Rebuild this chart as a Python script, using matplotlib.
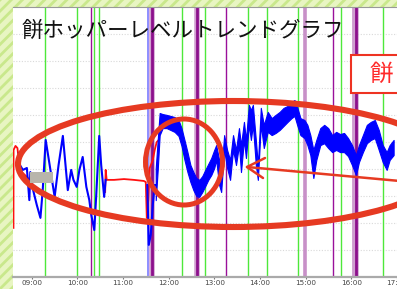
import numpy as np
import matplotlib
matplotlib.use("Agg")
import matplotlib.pyplot as plt
from matplotlib.patches import Rectangle, Ellipse

plt.rcParams["font.family"] = ["Noto Sans CJK JP", "DejaVu Sans"]
plt.rcParams["hatch.linewidth"] = 2.0

# --- data (time in hours, level in %) ---
title = "餅ホッパーレベルトレンドグラフ"
hour_ticks = [9, 10, 11, 12, 13, 14, 15, 16, 17]
hour_labels = ["09:00", "10:00", "11:00", "12:00", "13:00", "14:00", "15:00", "16:00", "17:00"]

# early, sparse part of the level trace
blue_t = [8.724, 8.746, 8.811, 8.898, 8.952, 8.974, 9.035, 9.115, 9.195, 9.245, 9.310,
          9.397, 9.506, 9.592, 9.686, 9.744, 9.794, 9.868, 9.918, 9.989, 10.048, 10.120,
          10.200, 10.265, 10.308, 10.374, 10.417, 10.482, 10.525, 10.590, 10.623,
          np.nan, 11.534, 11.567, 11.610, 11.654, 11.697, 11.719]
blue_v = [45.9, 41.4, 39.6, 40.3, 28.4, 38.8, 32.1, 26.6, 21.8, 32.1, 50.7,
          41.4, 29.6, 41.4, 52.2, 41.4, 32.1, 39.6, 35.9, 33.3, 39.6, 44.4,
          33.3, 28.4, 22.9, 17.3, 30.3, 52.2, 41.4, 29.6, 35.9,
          np.nan, 34.0, 11.8, 15.5, 26.6, 34.0, 34.0]

# dense, noisy part of the level trace (upper / lower envelope)
band_t = [11.719, 11.762, 11.805, 11.870, 11.957, 12.044, 12.131, 12.218, 12.283, 12.348,
          12.413, 12.478, 12.543, 12.608, 12.673, 12.738, 12.803, 12.868, 12.934, 12.999,
          13.042, 13.107, 13.151, 13.216, 13.281, 13.346, 13.411, 13.476, 13.541, 13.585,
          13.650, 13.693, 13.758, 13.802, 13.845, 13.910, 13.954, 14.019, 14.084, 14.171,
          14.257, 14.344, 14.431, 14.518, 14.605, 14.691, 14.756, 14.821, 14.886, 14.973,
          15.038, 15.103, 15.169, 15.234, 15.321, 15.407, 15.494, 15.581, 15.668, 15.754,
          15.841, 15.928, 16.015, 16.101, 16.167, 16.253, 16.340, 16.427, 16.514, 16.601,
          16.687, 16.774, 16.839, 16.926]
band_hi = [40.3, 50.7, 60.7, 60.3, 60.0, 59.6, 59.2, 58.1, 55.1, 50.7,
           46.2, 41.4, 38.8, 36.6, 35.9, 37.3, 39.6, 41.8, 44.0, 47.0,
           48.8, 43.3, 37.7, 52.5, 47.0, 43.3, 52.5, 47.0, 55.1, 48.8,
           57.4, 50.7, 63.7, 61.8, 63.7, 50.7, 41.4, 62.6, 56.3, 61.1,
           58.8, 60.0, 61.1, 62.6, 63.3, 64.8, 65.5, 62.6, 58.8, 58.1,
           56.3, 52.5, 47.0, 50.7, 55.1, 56.3, 55.1, 52.5, 53.7, 52.9,
           53.3, 51.4, 48.8, 45.1, 48.8, 52.5, 56.3, 57.4, 58.1, 54.4,
           48.8, 46.2, 48.8, 50.7]
band_lo = [28.4, 39.6, 52.5, 55.1, 55.1, 54.4, 53.7, 52.2, 48.5, 43.3,
           38.8, 35.1, 32.1, 29.9, 29.6, 31.4, 33.6, 35.9, 37.7, 40.3,
           43.3, 34.0, 31.4, 47.0, 40.3, 35.9, 47.0, 41.4, 48.8, 38.8,
           50.7, 44.0, 56.3, 50.7, 56.3, 41.4, 35.9, 56.3, 47.7, 53.7,
           52.5, 53.3, 54.4, 55.9, 57.4, 58.8, 59.6, 55.9, 52.5, 51.4,
           48.8, 45.1, 36.6, 43.3, 48.8, 49.5, 47.7, 46.2, 47.0, 46.2,
           46.2, 44.7, 41.4, 37.7, 42.5, 46.2, 49.5, 50.7, 51.4, 47.0,
           42.5, 39.6, 43.3, 45.1]

# second (red) trace
red_t = [8.605, 8.607, 8.649, 8.692, 8.724, 8.790, 8.920, 8.985, np.nan,
         10.612, 10.623, 10.645, 10.807, 11.024, 11.241, 11.458, 11.501, 11.523,
         11.556, 11.588, 11.654, 11.697, 11.740, 11.784]
red_v = [18.1, 47.0, 48.5, 47.7, 42.5, 38.8, 36.6, 35.1, np.nan,
         31.4, 39.6, 35.9, 35.9, 36.2, 35.9, 35.5, 35.1, 21.8,
         28.4, 40.3, 43.3, 47.0, 49.9, 50.7]

# event markers
green_events = [9.304, 9.987, 10.362, 10.471, 12.289, 12.793, 13.747, 14.153, 14.828, 15.765, 16.691]
purple_events = [10.297, 13.248, 15.609]
purple_thick_events = [11.643, 12.619, 16.112]
light_purple_events = [14.995, 16.058]
blue_events = [11.560]

W, H = 397, 289
fig = plt.figure(figsize=(W / 100, H / 100), dpi=100)
fig.patch.set_facecolor("#e8f5c2")
fig.patches.append(Rectangle((0, 0), 1, 1, transform=fig.transFigure,
                             facecolor="#e8f5c2", edgecolor="#c9e88c", hatch="///", lw=0, zorder=-3))
fig.patches.append(Rectangle((12.7 / W, 0), 1, (H - 6.5) / H, transform=fig.transFigure,
                             facecolor="white", lw=0, zorder=-2))

ax = fig.add_axes([12.7 / W, 12.3 / H, 1 - 12.7 / W, (276.7 - 7) / H])
ax.set_xlim(8.588, 16.926)
ax.set_ylim(0, 100)
ax.set_facecolor("white")

for y in range(10, 100, 10):
    ax.axhline(y, color="#d9d9d9", lw=0.8, ls=(0, (1, 1.5)), zorder=1)

for t in light_purple_events:
    ax.axvline(t, color="#c890c8", lw=2.6, zorder=2)
for t in purple_thick_events:
    ax.axvline(t, color="#d0a0d0", lw=4.0, zorder=2)
    ax.axvline(t, color="#8c108c", lw=2.0, zorder=2.1)
for t in purple_events:
    ax.axvline(t, color="#9a109a", lw=1.0, zorder=2)
for t in green_events:
    ax.axvline(t, color="#4ee83a", lw=1.0, zorder=2)
for t in blue_events:
    ax.axvline(t, color="#7a7aff", lw=1.2, zorder=2)

ax.plot(red_t, red_v, color="#ff1010", lw=1.3, zorder=3)
ax.plot(blue_t, blue_v, color="#0000ff", lw=1.5, zorder=4)
ax.fill_between(band_t, band_lo, band_hi, color="#0000ff", lw=0.8, edgecolor="#0000ff", zorder=4)

ax.set_xticks(hour_ticks)
ax.set_xticklabels(hour_labels, fontsize=5.2, color="#444444", family="DejaVu Sans")
ax.tick_params(axis="x", length=1.6, width=0.8, color="#777777", pad=1.0)
ax.set_yticks([])
ax.spines["left"].set_visible(False)
ax.spines["right"].set_visible(False)
ax.spines["bottom"].set_color("#aaaaaa")
ax.spines["bottom"].set_linewidth(1.6)
ax.spines["top"].set_color("#999999")
ax.spines["top"].set_linewidth(0.8)

# overlay in pixel coordinates for the hand-drawn annotations
ov = fig.add_axes([0, 0, 1, 1], zorder=10)
ov.set_xlim(0, W)
ov.set_ylim(H, 0)
ov.axis("off")
ov.patch.set_alpha(0)

red = "#e63a22"
ov.text(22, 31, title, fontsize=15.5, color="#111111", va="center", ha="left")
ov.add_patch(Ellipse((233, 164), 430, 126, fill=False, edgecolor=red, lw=4.4))
ov.add_patch(Ellipse((184, 162), 77, 86, fill=False, edgecolor=red, lw=3.6))
ov.plot([400, 247], [181, 167], color=red, lw=1.8, solid_capstyle="round")
ov.plot([265, 247, 263], [158, 167, 178], color=red, lw=1.8, solid_capstyle="round",
        solid_joinstyle="round")
ov.add_patch(Rectangle((30, 172), 23, 11, facecolor="#b8b5ab", lw=0))
ov.add_patch(Rectangle((350.7, 55), 60, 38, facecolor="white", edgecolor="#ee3322", lw=1.5))
ov.text(370, 74, "餅", fontsize=17, color="#ff2a2a", va="center", ha="left")

fig.savefig("out.png", dpi=100)
